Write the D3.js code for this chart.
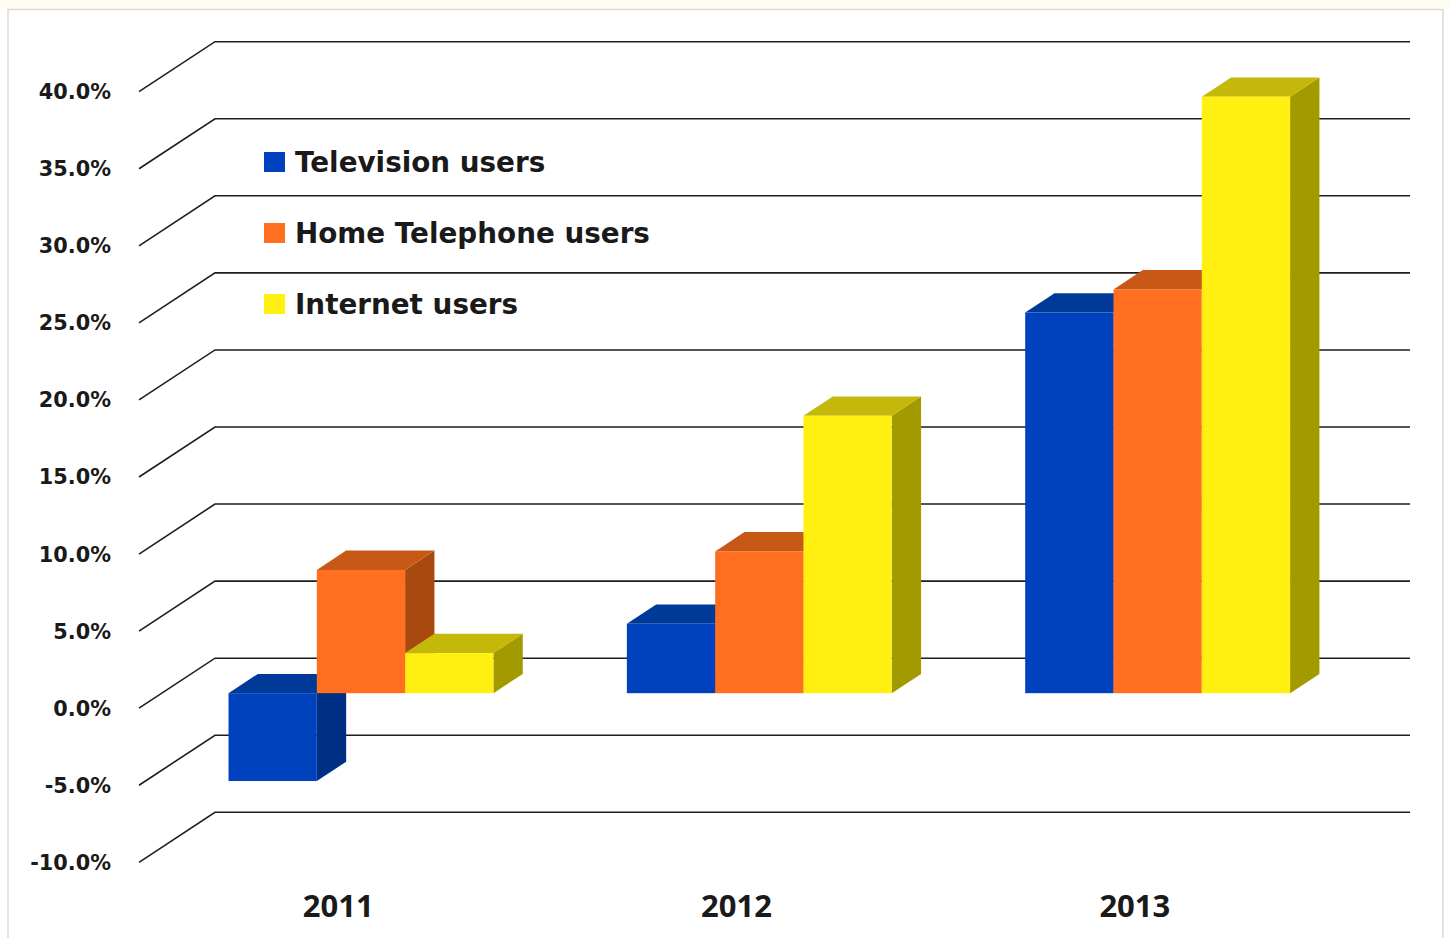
<!DOCTYPE html>
<html>
<head>
<meta charset="utf-8">
<script src="https://cdn.jsdelivr.net/npm/d3@7/dist/d3.min.js"></script>
<style>
  html, body { margin: 0; padding: 0; background: #ffffff; }
  svg { display: block; }
</style>
</head>
<body>
<svg id="chart" width="1450" height="938"></svg>
<script>
// Year-on-year change in users, by service
const years = ["2011", "2012", "2013"];
const seriesNames = ["Television users", "Home Telephone users", "Internet users"];
const televisionUsers = [-5.7, 4.5, 24.7];
const homeTelephoneUsers = [8.0, 9.2, 26.2];
const internetUsers = [2.6, 18.0, 38.7];
const yTicks = [-10, -5, 0, 5, 10, 15, 20, 25, 30, 35, 40];

const seriesValues = [televisionUsers, homeTelephoneUsers, internetUsers];
const palette = [
  { front: "#0042bd", top: "#003a98", side: "#002f86" },
  { front: "#ff6f1f", top: "#c85816", side: "#a84a10" },
  { front: "#fff012", top: "#c4b80a", side: "#a39a00" }
];

const svg = d3.select("#chart");

// frame
svg.append("rect").attr("x", 0).attr("y", 0).attr("width", 1450).attr("height", 9).attr("fill", "#fffcf2");
svg.append("rect").attr("x", 8).attr("y", 9.5).attr("width", 1435).attr("height", 940)
  .attr("fill", "#ffffff").attr("stroke", "#d9d9d9").attr("stroke-width", 1.5);

// 3D layout: back wall spans backX0..backX1, depth runs toward the viewer
const backX0 = 215, backX1 = 1410;
const depthDX = -76, depthDY = 50;   // offset from back wall to front edge of floor
const barFront = 0.7, barBack = 0.314; // bar faces as fraction of full depth

const y = d3.scaleLinear().domain([-10, 40]).range([812.3, 41.7]);

// category bands measured on the plane of the bars' front faces
const xFront = d3.scaleBand().domain(years)
  .range([backX0 + depthDX * barFront, backX1 + depthDX * barFront])
  .paddingInner(0.335).paddingOuter(0.1675);
const xSeries = d3.scaleBand().domain(d3.range(seriesNames.length))
  .range([0, xFront.bandwidth()]).padding(0);
// bands on the front edge, used for the year labels
const xEdge = d3.scaleBand().domain(years).range([backX0 + depthDX, backX1 + depthDX]);

// gridlines: back wall lines plus diagonal on the left wall
const grid = svg.append("g").attr("stroke", "#1e1e1e").attr("stroke-width", 1.6).attr("fill", "none");
yTicks.forEach(t => {
  const yy = y(t);
  grid.append("path").attr("d", `M${backX0 + depthDX},${yy + depthDY}L${backX0},${yy}L${backX1},${yy}`);
});

// y-axis labels
const fmt = d3.format(".1f");
svg.append("g").selectAll("text").data(yTicks).join("text")
  .attr("x", 111).attr("y", d => y(d) + depthDY)
  .attr("dy", "0.36em")
  .attr("text-anchor", "end")
  .attr("font-family", "'DejaVu Sans', sans-serif").attr("font-weight", 700)
  .attr("font-size", 20.8).attr("fill", "#1a1a1a")
  .text(d => fmt(d).replace("−", "-") + "%");

// bars (drawn left to right so each front face covers the previous side)
const ddx = -depthDX * (barFront - barBack), ddy = -depthDY * (barFront - barBack);
const bars = svg.append("g");
years.forEach((yr, ci) => {
  seriesValues.forEach((vals, si) => {
    const v = vals[ci];
    const x0 = xFront(yr) + xSeries(si);
    const w = xSeries.bandwidth();
    const yTop = Math.min(y(v), y(0)) + depthDY * barFront;
    const yBot = Math.max(y(v), y(0)) + depthDY * barFront;
    const c = palette[si];
    // side face
    bars.append("path")
      .attr("d", `M${x0 + w},${yTop}L${x0 + w + ddx},${yTop + ddy}L${x0 + w + ddx},${yBot + ddy}L${x0 + w},${yBot}Z`)
      .attr("fill", c.side);
    // top face
    bars.append("path")
      .attr("d", `M${x0},${yTop}L${x0 + ddx},${yTop + ddy}L${x0 + w + ddx},${yTop + ddy}L${x0 + w},${yTop}Z`)
      .attr("fill", c.top);
    // front face
    bars.append("rect")
      .attr("x", x0).attr("y", yTop).attr("width", w).attr("height", yBot - yTop)
      .attr("fill", c.front);
  });
});

// year labels
svg.append("g").selectAll("text").data(years).join("text")
  .attr("x", d => xEdge(d) + xEdge.bandwidth() / 2)
  .attr("y", 917)
  .attr("text-anchor", "middle")
  .attr("font-family", "'Open Sans', sans-serif").attr("font-weight", 700)
  .attr("font-size", 31).attr("fill", "#1a1a1a")
  .text(d => d);

// legend
const legend = svg.append("g").attr("transform", "translate(264,152)");
seriesNames.forEach((name, i) => {
  const g = legend.append("g").attr("transform", `translate(0,${i * 71})`);
  g.append("rect").attr("width", 21).attr("height", 20).attr("fill", palette[i].front);
  g.append("text").attr("x", 31).attr("y", 20)
    .attr("font-family", "'DejaVu Sans', sans-serif").attr("font-weight", 700)
    .attr("font-size", 27.8).attr("fill", "#1a1a1a")
    .text(name);
});
</script>
</body>
</html>
